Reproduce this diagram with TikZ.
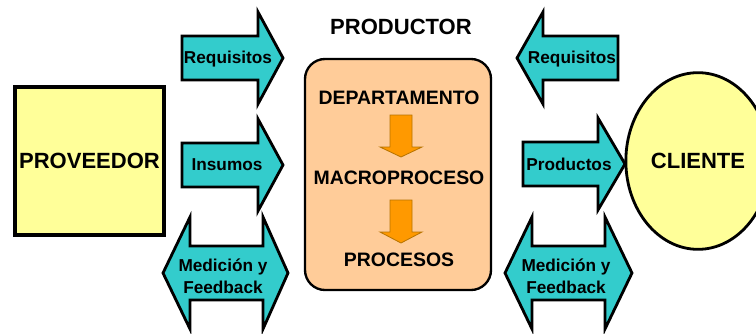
\documentclass[tikz,border=0pt]{standalone}
\usepackage{fontspec}
\setmainfont{Liberation Sans}
\usepackage{tikz}
\usetikzlibrary{arrows.meta,positioning,shapes.geometric}
\definecolor{turq}{HTML}{33CCCC}
\definecolor{paleyellow}{HTML}{FFFF99}
\definecolor{peach}{HTML}{FFCC99}
\definecolor{amber}{HTML}{FF9900}
\definecolor{amberdark}{HTML}{B87400}
\tikzset{
  every node/.append style={font=\bfseries},
}
\tikzset{
  blockarrow/.style={draw=black, fill=turq, line width=2.4pt, line join=miter},
  downarrow/.style={draw=amberdark, fill=amber, line width=0.7pt}
}
% block arrows (pixel units), #4/#5 = centre line
\newcommand{\blockright}[4]{%
  \draw[blockarrow] (#1,#4-22) -- (#2,#4-22) -- (#2,#4-46) -- (#3,#4)
    -- (#2,#4+46) -- (#2,#4+22) -- (#1,#4+22) -- cycle;}
\newcommand{\blockleft}[4]{%
  \draw[blockarrow] (#3,#4-22) -- (#2,#4-22) -- (#2,#4-46) -- (#1,#4)
    -- (#2,#4+46) -- (#2,#4+22) -- (#3,#4+22) -- cycle;}
\newcommand{\blockboth}[5]{%
  \draw[blockarrow] (#1,#5) -- (#2,#5-56) -- (#2,#5-27) -- (#3,#5-27)
    -- (#3,#5-56) -- (#4,#5) -- (#3,#5+56) -- (#3,#5+27)
    -- (#2,#5+27) -- (#2,#5+56) -- cycle;}
\newcommand{\blockdown}[4]{%
  \draw[downarrow] (#1-11,#2) -- (#1+11,#2) -- (#1+11,#3) -- (#1+21,#3)
    -- (#1,#4) -- (#1-21,#3) -- (#1-11,#3) -- cycle;}

\begin{document}
\begin{tikzpicture}[
  x=0.03cm, y=-0.03cm,
  bigtext/.style={font=\bfseries\fontsize{18.8}{22}\selectfont},
  midtext/.style={font=\bfseries\fontsize{16.6}{20}\selectfont},
  smalltext/.style={font=\bfseries\fontsize{14.7}{18.8}\selectfont, align=center, inner sep=0pt},
  supplier/.style={
    rectangle,
    draw=black,
    fill=paleyellow,
    line width=3.4pt,
    minimum width=4.42cm,
    minimum height=4.46cm
  },
  producer/.style={
    rectangle,
    draw=black,
    fill=peach,
    line width=2pt,
    rounded corners=0.6cm,
    minimum width=5.58cm,
    minimum height=6.93cm
  },
  customer/.style={
    ellipse,
    draw=black,
    fill=paleyellow,
    line width=2.4pt,
    minimum width=4.1cm,
    minimum height=5.3cm
  }
]
\useasboundingbox (0,0) rectangle (756,333);

% --- Proveedor ---
\node[supplier, bigtext] (prov) at (89.5,161) {PROVEEDOR};

% --- Productor (centre) ---
\node[bigtext] (title) at (401,27) {PRODUCTOR};
\node[producer] (prod) at (398,174.5) {};
\blockdown{401}{115}{147}{157}
\blockdown{401}{200}{232}{243}
\node[midtext] (depto) at (399,98) {DEPARTAMENTO};
\node[midtext] (macro) at (399,178) {MACROPROCESO};
\node[midtext] (procs) at (399,260) {PROCESOS};

% --- Cliente ---
\node[customer, bigtext] (cli) at (698,161) {CLIENTE};

% --- Left arrows ---
\blockright{182}{258}{283}{58}
\blockright{182}{258}{283}{165}
\blockboth{163}{190}{263}{288}{273}
\node[smalltext] (reqL) at (228,59) {Requisitos};
\node[smalltext] (insL) at (227,165) {Insumos};
\node[smalltext] (medL) at (223,276) {Medición y\\Feedback};

% --- Right arrows ---
\blockleft{517}{543}{618}{58}
\blockright{523}{598}{625}{164}
\blockboth{505}{532}{605}{632}{273}
\node[smalltext] (reqR) at (572,59) {Requisitos};
\node[smalltext] (prdR) at (569,164) {Productos};
\node[smalltext] (medR) at (566,276) {Medición y\\Feedback};

\end{tikzpicture}
\end{document}
